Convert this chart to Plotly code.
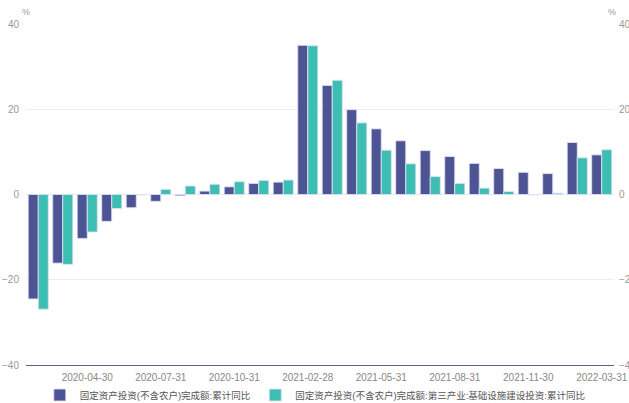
import plotly.graph_objects as go

# Monthly reporting dates (cumulative year-on-year figures)
dates = [
    "2020-02-29", "2020-03-31", "2020-04-30", "2020-05-31", "2020-06-30",
    "2020-07-31", "2020-08-31", "2020-09-30", "2020-10-31", "2020-11-30",
    "2020-12-31", "2021-02-28", "2021-03-31", "2021-04-30", "2021-05-31",
    "2021-06-30", "2021-07-31", "2021-08-31", "2021-09-30", "2021-10-31",
    "2021-11-30", "2021-12-31", "2022-02-28", "2022-03-31",
]

# 固定资产投资(不含农户)完成额:累计同比 (%)
fai_total = [
    -24.5, -16.1, -10.3, -6.3, -3.1,
    -1.6, -0.3, 0.8, 1.8, 2.6,
    2.9, 35.0, 25.6, 19.9, 15.4,
    12.6, 10.3, 8.9, 7.3, 6.1,
    5.2, 4.9, 12.2, 9.3,
]

# 固定资产投资(不含农户)完成额:第三产业:基础设施建设投资:累计同比 (%)
fai_infra = [
    -26.9, -16.4, -8.8, -3.3, -0.1,
    1.2, 2.0, 2.4, 3.0, 3.3,
    3.4, 34.9, 26.8, 16.8, 10.4,
    7.2, 4.2, 2.6, 1.5, 0.7,
    -0.1, 0.3, 8.6, 10.5,
]

tick_dates = [
    "2020-04-30", "2020-07-31", "2020-10-31", "2021-02-28",
    "2021-05-31", "2021-08-31", "2021-11-30", "2022-03-31",
]

series_names = [
    "固定资产投资(不含农户)完成额:累计同比",
    "固定资产投资(不含农户)完成额:第三产业:基础设施建设投资:累计同比",
]
colors = ["#4d5494", "#3cbfb2"]

font_family = "Liberation Sans, Noto Sans CJK SC, sans-serif"
label_color = "#999999"
grid_color = "#ececf3"

fig = go.Figure()
for name, vals, col in zip(series_names, [fai_total, fai_infra], colors):
    fig.add_trace(go.Bar(
        x=dates, y=vals, name=name,
        marker=dict(color=col, line=dict(color="rgba(225,225,245,0.85)", width=1)),
    ))

# Empty trace on the right-hand axis so its ticks are drawn
fig.add_trace(go.Bar(x=[dates[0]], y=[None], yaxis="y2", showlegend=False,
                     hoverinfo="skip"))

fig.update_layout(
    width=629, height=403,
    margin=dict(l=26, r=15, t=24, b=38, autoexpand=False),
    paper_bgcolor="white", plot_bgcolor="white",
    barmode="group", bargap=0.18, bargroupgap=0.0,
    font=dict(family=font_family, size=10, color=label_color),
    xaxis=dict(
        type="category", categoryorder="array", categoryarray=dates,
        range=[-0.5, len(dates) - 0.5],
        tickmode="array", tickvals=tick_dates, ticktext=tick_dates,
        showgrid=False, ticks="", tickangle=0, automargin=False,
        ticklabelstandoff=3,
        showline=True, linecolor="#5d6190", linewidth=1,
        tickfont=dict(size=10, color="#888888"),
    ),
    yaxis=dict(
        range=[-40, 40], tickvals=[-40, -20, 0, 20, 40], showgrid=True,
        gridcolor=grid_color, gridwidth=1, zeroline=False, automargin=False,
        ticks="", ticklabelstandoff=6, tickfont=dict(size=10, color=label_color),
    ),
    yaxis2=dict(
        range=[-40, 40], tickvals=[-40, -20, 0, 20, 40], overlaying="y",
        side="right", showgrid=False, zeroline=False, ticks="", automargin=False,
        ticklabelstandoff=4, tickfont=dict(size=10, color=label_color),
    ),
    legend=dict(
        orientation="h", x=0.492, xanchor="center", y=-0.088, yanchor="middle",
        font=dict(size=9.5, color="#555555"), itemwidth=30,
        bgcolor="rgba(0,0,0,0)", tracegroupgap=0,
    ),
    annotations=[
        dict(text="%", xref="paper", yref="paper", x=0.0, y=1.035,
             xanchor="center", yanchor="middle", showarrow=False,
             font=dict(size=9, color=label_color)),
        dict(text="%", xref="paper", yref="paper", x=0.9966, y=1.035,
             xanchor="center", yanchor="middle", showarrow=False,
             font=dict(size=9, color=label_color)),
    ],
)

fig.write_html("out.html")
